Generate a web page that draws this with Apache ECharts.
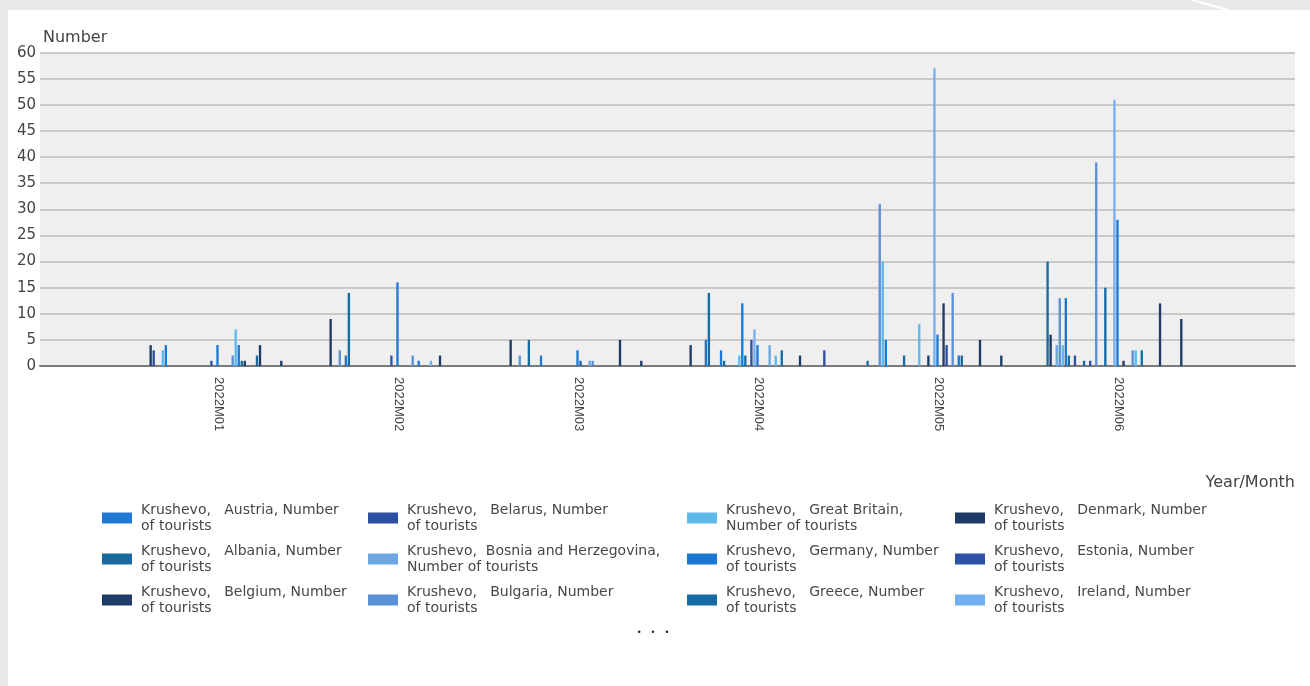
<!DOCTYPE html>
<html><head><meta charset="utf-8">
<script src="https://cdn.jsdelivr.net/npm/echarts/dist/echarts.min.js"></script>
<style>
html,body{margin:0;padding:0;background:#e8e9eb;width:1310px;height:686px;overflow:hidden;}
#panel{position:absolute;left:8px;top:10px;width:1302px;height:676px;background:#fff;}
#chart{position:absolute;left:0;top:0;width:1310px;height:686px;}
</style></head><body><div id="panel"></div><div id="chart"></div>
<script>
const categories = ['2022M01','2022M02','2022M03','2022M04','2022M05','2022M06'];
const yTicks = [0,5,10,15,20,25,30,35,40,45,50,55,60];
const countries = ['Austria','Albania','Belgium','Belarus','Bosnia and Herzegovina','Bulgaria','Great Britain','Germany','Greece','Denmark','Estonia','Ireland','Iceland','Italy','Cyprus','Latvia','Lithuania','Liechtenstein','Luxembourg','Malta','Moldova','Norway','Poland','Portugal','Romania','Russian Federation','Slovakia','Slovenia','Serbia','Turkey','Ukraine','Hungary','Finland','France','Netherlands','Croatia','Montenegro','Czech Republic','Switzerland','Sweden','Spain','Kosovo','Other European countries','USA','Canada','Australia','Japan','China','Israel','Other countries'];
// values per month, one per country (same order as countries)
const m01 = [0,0,4,3,0,0,3,4,0,0, 0,0,0,0,0,0,0,0,0,0, 0,0,1,0,4,0,0,0,0,2, 7,4,1,1,0,0,0,2,4,0, 0,0,0,0,0,1,0,0,0,0];
const m02 = [0,0,9,0,0,3,0,2,14,0, 0,0,0,0,0,0,0,0,0,0, 0,0,2,0,16,0,0,0,0,2, 0,1,0,0,0,1,0,0,2,0, 0,0,0,0,0,0,0,0,0,0];
const m03 = [0,0,5,0,0,2,0,0,5,0, 0,0,2,0,0,0,0,0,0,0, 0,0,0,0,3,1,0,0,1,1, 0,0,0,0,0,0,0,0,5,0, 0,0,0,0,0,1,0,0,0,0];
const m04 = [0,0,4,0,0,0,0,5,14,0, 0,0,3,1,0,0,0,0,2,12, 2,0,5,7,4,0,0,0,4,0, 2,0,3,0,0,0,0,0,2,0, 0,0,0,0,0,0,3,0,0,0];
const m05 = [0,1,0,0,0,31,20,5,0,0, 0,0,0,2,0,0,0,0,8,0, 0,2,0,57,6,0,12,4,0,14, 0,2,2,0,0,0,0,0,5,0, 0,0,0,0,0,2,0,0,0,0];
const m06 = [0,20,6,0,4,13,4,13,2,0, 2,0,0,1,0,1,0,39,0,0, 15,0,0,51,28,0,1,0,0,3, 3,0,3,0,0,0,0,0,12,0, 0,0,0,0,0,9,0,0,0,0];
const months = [m01,m02,m03,m04,m05,m06];
const palette = ['#1f78d6','#17699f','#1e3a66','#2b4fa2','#6ba7e0','#5b8fd6','#5cb9e8','#1878d4','#156ba2','#1e3b66','#2d51a5','#74aff0'];
const legendCount = 12;

const seriesNames = countries.map(c => 'Krushevo, ' + c + ', Number of tourists');
const FONT = 'DejaVu Sans';

function legendFmt(name){
  const c = name.replace(/^Krushevo, /,'').replace(/, Number of tourists$/,'');
  const sp = c.length > 15 ? '  ' : '   ';
  if (c.length > 10) return 'Krushevo,' + sp + c + ',\nNumber of tourists';
  return 'Krushevo,' + sp + c + ', Number\nof tourists';
}
const legendLefts = [97, 363, 682, 950];
const legends = legendLefts.map((l, k) => ({
  orient: 'vertical', left: l, top: 497,
  itemWidth: 30, itemHeight: 11, itemGap: 9, icon: 'rect',
  selectedMode: false,
  data: seriesNames.slice(0, legendCount).slice(k*3, k*3+3),
  formatter: legendFmt,
  textStyle: {fontFamily: FONT, fontSize: 14, color: '#474747', lineHeight: 16, padding: [0,0,0,4]}
}));

const chart = echarts.init(document.getElementById('chart'), null, {renderer: 'canvas'});
chart.setOption({
  animation: false,
  backgroundColor: 'transparent',
  color: palette,
  grid: [
    {left: 40, right: 15, top: 52.7, height: 313.3, show: true, backgroundColor: '#efefef', borderWidth: 0, outerBoundsMode: 'none'},
    {left: 129, width: 1080, top: 52.7, height: 313.3, outerBoundsMode: 'none'}
  ],
  xAxis: [
    {type: 'value', gridIndex: 0, min: 0, max: 1,
     axisLine: {show: true, lineStyle: {color: '#7a7a7a', width: 2}},
     axisTick: {show: false}, axisLabel: {show: false}, splitLine: {show: false}},
    {type: 'category', gridIndex: 1, data: categories,
     axisLine: {show: false}, axisTick: {show: false},
     axisLabel: {interval: 0, rotate: -90, margin: 11, fontFamily: 'Liberation Sans', fontSize: 13, color: '#444'}}
  ],
  yAxis: [
    {type: 'value', gridIndex: 0, min: yTicks[0], max: yTicks[yTicks.length-1], interval: 5,
     axisLine: {show: false}, axisTick: {show: false},
     axisLabel: {fontFamily: FONT, fontSize: 15, color: '#444', margin: 4},
     splitLine: {lineStyle: {color: '#c9c9c9', width: 2}},
     name: 'Number', nameLocation: 'end', nameGap: 7,
     nameTextStyle: {align: 'left', verticalAlign: 'bottom', fontFamily: FONT, fontSize: 16, color: '#444', padding: [0,0,0,3]}},
    {type: 'value', gridIndex: 1, min: 0, max: 60, show: false}
  ],
  legend: legends,
  graphic: [
    {type: 'text', x: 1295, y: 483, style: {text: 'Year/Month', fontFamily: FONT, fontSize: 16, fill: '#444', align: 'right', verticalAlign: 'middle'}},
    {type: 'text', x: 653, y: 633, style: {text: '\u2022   \u2022   \u2022', fontFamily: FONT, fontSize: 9, fill: '#333', align: 'center', verticalAlign: 'middle'}},
    {type: 'line', shape: {x1: 1192, y1: 0, x2: 1228, y2: 10}, style: {stroke: '#ffffff', lineWidth: 2}}
  ],
  series: seriesNames.map((n, i) => ({
    type: 'bar', name: n, xAxisIndex: 1, yAxisIndex: 1,
    data: months.map(m => m[i]),
    barGap: '30%', barCategoryGap: '16%',
    itemStyle: {color: palette[i % palette.length]},
    silent: true
  }))
});
</script></body></html>
